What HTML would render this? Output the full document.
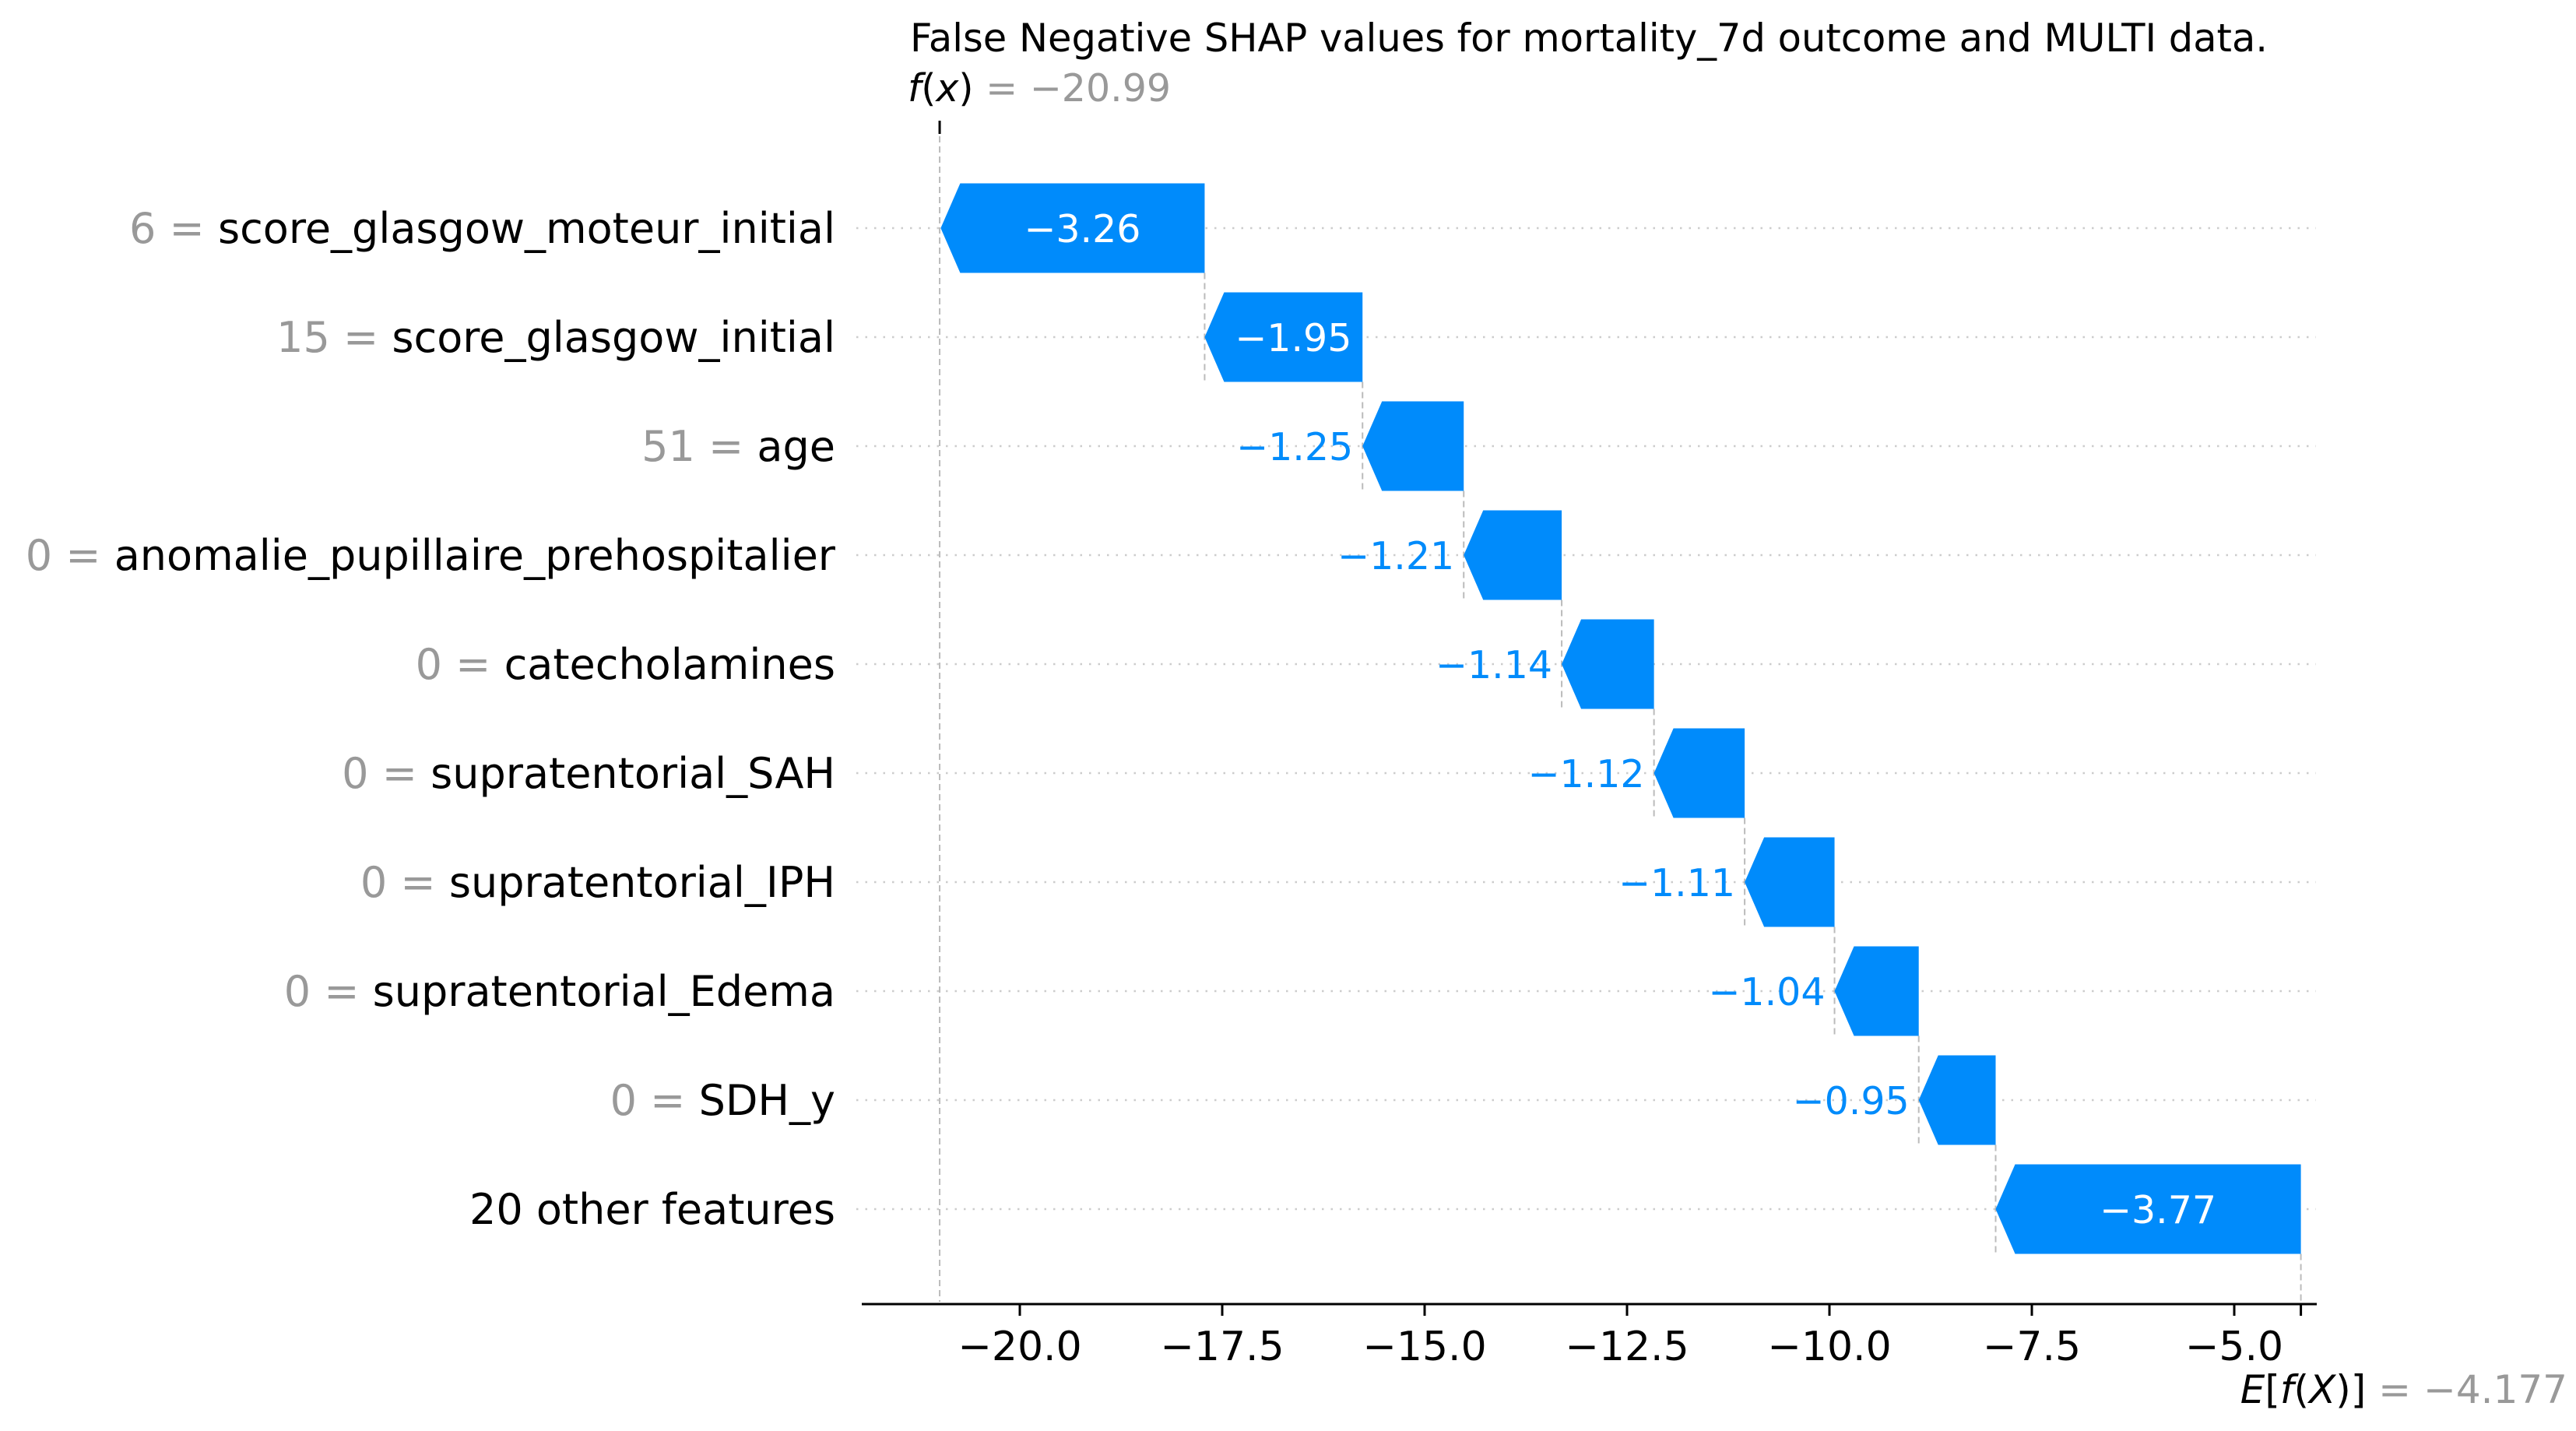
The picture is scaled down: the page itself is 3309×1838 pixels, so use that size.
<!DOCTYPE html>
<html><head><meta charset="utf-8"><style>
html,body{margin:0;padding:0;background:#fff;}
svg{display:block;font-family:"DejaVu Sans","Liberation Sans",sans-serif;}
</style></head><body>
<svg id="chart" width="3309" height="1838" viewBox="0 0 3309 1838" xmlns="http://www.w3.org/2000/svg">
<text x="2041" y="66" font-size="49.5" text-anchor="middle" fill="#000">False Negative SHAP values for mortality_7d outcome and MULTI data.</text>
<g id="g"></g>
</svg>
<script>
const featureValues = ["6","15","51","0","0","0","0","0","0",""];
const featureNames = ["score_glasgow_moteur_initial","score_glasgow_initial","age","anomalie_pupillaire_prehospitalier","catecholamines","supratentorial_SAH","supratentorial_IPH","supratentorial_Edema","SDH_y","20 other features"];
const shapValues = [-3.26,-1.95,-1.25,-1.21,-1.14,-1.12,-1.11,-1.04,-0.95,-3.77];
const baseValue = -4.177;
const fxValue = -20.99;
const xTicks = [-20.0,-17.5,-15.0,-12.5,-10.0,-7.5,-5.0];

const NS="http://www.w3.org/2000/svg";
const g=document.getElementById('g');
const X=v=>1310+(v+20)*104;
const Y=i=>293+i*140;
const BH=115, HEAD=25;
function mk(t,a){const e=document.createElementNS(NS,t);for(const k in a)e.setAttribute(k,a[k]);g.appendChild(e);return e;}
const n=shapValues.length;
const ends=new Array(n), starts=new Array(n);
let cur=baseValue;
for(let i=n-1;i>=0;i--){starts[i]=cur;ends[i]=cur+shapValues[i];cur=ends[i];}
for(let i=0;i<n;i++){
  const l=mk('line',{x1:1100,x2:2975,y1:Y(i),y2:Y(i),stroke:'#ccc','stroke-width':2.5,'stroke-dasharray':'2.5,9'});
  
  
}
for(let i=0;i<n-1;i++){
  const l=mk('line',{x1:X(starts[i]),x2:X(starts[i]),y1:Y(i)+BH/2,y2:Y(i+1)+BH/2,stroke:'#bbb','stroke-width':2,'stroke-dasharray':'8,5'});
  
  
}
const fl=mk('line',{x1:X(fxValue),x2:X(fxValue),y1:175,y2:1672,stroke:'#bbb','stroke-width':2,'stroke-dasharray':'8,5'});


const ft=mk('line',{x1:X(fxValue),x2:X(fxValue),y1:155,y2:172,stroke:'#000','stroke-width':3});


const el=mk('line',{x1:X(baseValue),x2:X(baseValue),y1:Y(n-1)+BH/2,y2:1672,stroke:'#bbb','stroke-width':2,'stroke-dasharray':'8,5'});


for(let i=0;i<n;i++){
  const xs=X(starts[i]), xe=X(ends[i]), y=Y(i);
  const h=Math.min(HEAD, xs-xe);
  const p=mk('polygon',{points:`${xs},${y-BH/2} ${xe+h},${y-BH/2} ${xe},${y} ${xe+h},${y+BH/2} ${xs},${y+BH/2}`,fill:'#008bfb'});
  
  
  const txt='\u2212'+Math.abs(shapValues[i]).toFixed(2);
  const inside=(xs-xe)>170;
  const t=mk('text',{x:inside?(xs+xe+h)/2:xe-12,y:y+18,'font-size':49,'text-anchor':inside?'middle':'end',fill:inside?'#fff':'#008bfb'});
  t.textContent=txt;
  
  
  const lab=mk('text',{x:1073,y:y+19,'font-size':54,'text-anchor':'end',fill:'#000'});
  if(featureValues[i]!==''){
    const s=document.createElementNS(NS,'tspan');s.setAttribute('fill','#999');s.textContent=featureValues[i]+' = ';lab.appendChild(s);
  }
  const s2=document.createElementNS(NS,'tspan');s2.textContent=featureNames[i];lab.appendChild(s2);
  
  
}
const ax=mk('line',{x1:1107,x2:2976,y1:1675,y2:1675,stroke:'#000','stroke-width':3});


xTicks.forEach(v=>{
  const tk=mk('line',{x1:X(v),x2:X(v),y1:1675,y2:1690,stroke:'#000','stroke-width':3});
  
  
  const tl=mk('text',{x:X(v),y:1747,'font-size':52,'text-anchor':'middle',fill:'#000'});
  tl.textContent=(v<0?'\u2212':'')+Math.abs(v).toFixed(1);
  
  
});
const bt=mk('line',{x1:X(baseValue),x2:X(baseValue),y1:1675,y2:1690,stroke:'#000','stroke-width':3});


const fxl=mk('text',{x:1166,y:130,'font-size':49,fill:'#000'});
fxl.innerHTML='<tspan font-style="italic">f</tspan>(<tspan font-style="italic">x</tspan>)<tspan fill="#999"> = \u2212'+Math.abs(fxValue).toFixed(2)+'</tspan>';


const bl=mk('text',{x:3298,y:1802,'font-size':50,'text-anchor':'end',fill:'#000'});
bl.innerHTML='<tspan font-style="italic">E</tspan>[<tspan font-style="italic">f</tspan>(<tspan font-style="italic">X</tspan>)]<tspan fill="#999"> = \u2212'+Math.abs(baseValue).toFixed(3)+'</tspan>';


</script>
</body></html>
